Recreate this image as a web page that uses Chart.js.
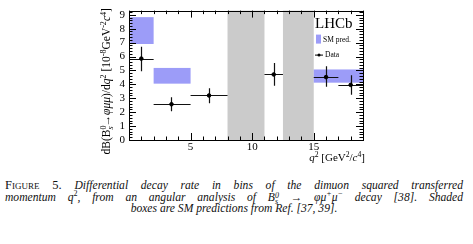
<!DOCTYPE html>
<html>
<head>
<meta charset="utf-8">
<script src="https://cdn.jsdelivr.net/npm/chart.js@4"></script>
<style>
  body { margin: 0; background: #fff; width: 473px; height: 244px; overflow: hidden; }
  #wrap { position: absolute; left: 0; top: 0; width: 473px; height: 170px; }
  #caption { position: absolute; left: 5px; top: 180px; width: 458px;
    font-family: "Liberation Serif", serif; font-size: 11.6px; line-height: 11.7px; color: #111; }
  #caption .l { display: block; height: 11.7px; text-align: justify; text-align-last: justify; white-space: nowrap; }
  #caption .c { display: block; height: 11.7px; text-align: center; }
  #caption i { font-style: italic; }
  .sc { font-variant: small-caps; font-style: normal; font-size: 12.5px; }
  .up { font-size: 8px; line-height: 0; position: relative; top: -5px; vertical-align: baseline; }
  .ss { display: inline-block; vertical-align: -3px; line-height: 6px; font-size: 8px; text-align: left; }
</style>
</head>
<body>
<div id="wrap"><canvas id="c" width="473" height="170"></canvas></div>
<div id="caption">
  <span class="l"><span class="sc">Figure 5.</span> <i>Differential decay rate in bins of the dimuon squared transferred</i></span>
  <span class="l"><i>momentum q</i><span class="up">2</span><i>, from an angular analysis of B<span class="ss">0<br>s</span> → φμ<span class="up">+</span>μ<span class="up">−</span> decay [38]. Shaded</i></span>
  <span class="c"><i>boxes are SM predictions from Ref. [37, 39].</i></span>
</div>
<script>
'use strict';

// measured bins (q^2 in GeV^2/c^4, rate in 10^-8 GeV^-2 c^4)
const binLo = [0.1, 2, 5, 11, 15, 17];
const binHi = [2, 5, 8, 12.5, 17, 19];
const pointQ2 = [1.0, 3.45, 6.5, 11.75, 16.0, 18.0];
const rate = [5.85, 2.57, 3.2, 4.71, 4.52, 3.96];
const errUp = [0.85, 0.5, 0.52, 0.82, 0.78, 0.7];
const errDown = [0.9, 0.5, 0.56, 0.82, 0.7, 0.71];

// SM prediction boxes
const smLo = [0.1, 2, 15];
const smHi = [2, 5, 19];
const smMin = [6.9, 4.05, 4.12];
const smMax = [8.83, 5.18, 5.07];

// vetoed charmonium regions
const vetoLo = [8, 12.5];
const vetoHi = [11, 15];

// labelled ticks
const xTickVals = [5, 10, 15];
const yTickVals = [0, 1, 2, 3, 4, 5, 6, 7, 8, 9];

const serif = '"Liberation Serif", "DejaVu Serif", serif';

function drawRuns(ctx, runs, x, y, size) {
  // pos: 0 normal, 1 superscript, -1 subscript
  let cx = x;
  runs.forEach(r => {
    const fs = r.pos === 0 ? size : size * 0.7;
    ctx.font = (r.it ? 'italic ' : '') + fs + 'px ' + serif;
    let dy = 0;
    if (r.pos === 1) dy = -size * 0.38;
    if (r.pos === -1) dy = size * 0.25;
    ctx.fillText(r.t, cx, y + dy);
    if (!r.noAdvance) cx += ctx.measureText(r.t).width;
  });
  return cx - x;
}

function measureRuns(ctx, runs, size) {
  let w = 0;
  runs.forEach(r => {
    const fs = r.pos === 0 ? size : size * 0.7;
    ctx.font = (r.it ? 'italic ' : '') + fs + 'px ' + serif;
    if (!r.noAdvance) w += ctx.measureText(r.t).width;
  });
  return w;
}

const decor = {
  id: 'decor',
  beforeDatasetsDraw(chart) {
    const { ctx, chartArea: a, scales: { x, y } } = chart;
    ctx.save();
    ctx.fillStyle = '#cbcbcb';
    vetoLo.forEach((lo, i) => {
      const x0 = x.getPixelForValue(lo), x1 = x.getPixelForValue(vetoHi[i]);
      ctx.fillRect(x0, a.top, x1 - x0, a.bottom - a.top);
    });
    ctx.fillStyle = '#9c9cf8';
    smLo.forEach((lo, i) => {
      const x0 = x.getPixelForValue(lo), x1 = x.getPixelForValue(smHi[i]);
      const y0 = y.getPixelForValue(smMax[i]), y1 = y.getPixelForValue(smMin[i]);
      ctx.fillRect(x0, y0, x1 - x0, y1 - y0);
    });
    // error bars
    ctx.strokeStyle = '#111';
    ctx.lineWidth = 1.2;
    rate.forEach((v, i) => {
      const py = Math.round(y.getPixelForValue(v)) + 0.5;
      const px = Math.round(x.getPixelForValue(pointQ2[i])) + 0.5;
      ctx.beginPath();
      ctx.moveTo(x.getPixelForValue(binLo[i]), py);
      ctx.lineTo(x.getPixelForValue(binHi[i]), py);
      ctx.moveTo(px, y.getPixelForValue(v + errUp[i]));
      ctx.lineTo(px, y.getPixelForValue(v - errDown[i]));
      ctx.stroke();
    });
    ctx.restore();
  },
  afterDraw(chart) {
    const { ctx, chartArea: a, scales: { x, y } } = chart;
    ctx.save();
    ctx.strokeStyle = '#000';
    ctx.lineWidth = 1;
    ctx.strokeRect(Math.round(a.left) + 0.5, Math.round(a.top) + 0.5,
      Math.round(a.right - a.left), Math.round(a.bottom - a.top));
    ctx.beginPath();
    // x ticks, bottom and top
    for (let q = 0; q <= 19; q++) {
      const px = Math.round(x.getPixelForValue(q)) + 0.5;
      const len = q % 5 === 0 ? 7 : 3.5;
      ctx.moveTo(px, a.bottom); ctx.lineTo(px, a.bottom - len);
      ctx.moveTo(px, a.top); ctx.lineTo(px, a.top + len);
    }
    // y ticks, left and right
    for (let k = 0; k <= 46; k++) {
      const v = k * 0.2;
      if (v > y.max) break;
      const py = Math.round(y.getPixelForValue(v)) + 0.5;
      const len = k % 5 === 0 ? 7 : 3.5;
      ctx.moveTo(a.left, py); ctx.lineTo(a.left + len, py);
      ctx.moveTo(a.right, py); ctx.lineTo(a.right - len, py);
    }
    ctx.stroke();

    // legend
    ctx.fillStyle = '#000';
    ctx.textBaseline = 'middle';
    ctx.textAlign = 'left';
    ctx.font = '15px ' + serif;
    ctx.fillText('LHCb', a.right - 48, a.top + 13);
    ctx.fillStyle = '#9c9cf8';
    ctx.fillRect(a.right - 47, a.top + 24, 5, 9);
    ctx.fillStyle = '#000';
    ctx.font = '7.5px ' + serif;
    ctx.fillText('SM pred.', a.right - 40, a.top + 29);
    ctx.fillText('Data', a.right - 38, a.top + 44);
    ctx.beginPath();
    ctx.moveTo(a.right - 48, a.top + 44.5); ctx.lineTo(a.right - 40, a.top + 44.5);
    ctx.stroke();
    ctx.beginPath();
    ctx.arc(a.right - 44, a.top + 44.5, 1.5, 0, Math.PI * 2);
    ctx.fill();

    // x title
    ctx.textBaseline = 'alphabetic';
    const xRuns = [
      { t: 'q', it: true, pos: 0 }, { t: '2', pos: 1 }, { t: ' [GeV', pos: 0 }, { t: '2', pos: 1 },
      { t: '/', pos: 0 }, { t: 'c', it: true, pos: 0 }, { t: '4', pos: 1 }, { t: ']', pos: 0 }
    ];
    const xw = measureRuns(ctx, xRuns, 11);
    drawRuns(ctx, xRuns, a.right + 2 - xw, a.bottom + 21, 11);

    // y title, rotated
    const yRuns = [
      { t: 'dB(B', pos: 0 }, { t: '0', pos: 1, noAdvance: true }, { t: 's', it: true, pos: -1 },
      { t: '→', pos: 0 }, { t: 'φμμ', it: true, pos: 0 }, { t: ')/d', pos: 0 }, { t: 'q', it: true, pos: 0 },
      { t: '2', pos: 1 }, { t: ' [10', pos: 0 }, { t: '-8', pos: 1 }, { t: 'GeV', pos: 0 }, { t: '-2', pos: 1 },
      { t: 'c', it: true, pos: 0 }, { t: '4', pos: 1 }, { t: ']', pos: 0 }
    ];
    const yw = measureRuns(ctx, yRuns, 11.5);
    ctx.translate(110, (a.top + a.bottom) / 2 + 6);
    ctx.rotate(-Math.PI / 2);
    drawRuns(ctx, yRuns, -yw / 2, 0, 11.5);
    ctx.restore();
  }
};

new Chart(document.getElementById('c'), {
  type: 'scatter',
  data: {
    datasets: [{
      label: 'Data',
      data: pointQ2.map((q, i) => ({ x: q, y: rate[i] })),
      backgroundColor: '#000',
      borderColor: '#000',
      pointRadius: 1.8,
      pointHoverRadius: 1.8
    }]
  },
  options: {
    responsive: false,
    animation: false,
    devicePixelRatio: 1,
    layout: { padding: { top: 8, right: 110, left: 0, bottom: 0 } },
    plugins: { legend: { display: false }, tooltip: { enabled: false } },
    scales: {
      x: {
        type: 'linear', min: 0, max: 19,
        grid: { display: false, drawTicks: false }, border: { display: false },
        afterBuildTicks: s => { s.ticks = xTickVals.map(v => ({ value: v })); },
        ticks: {
          padding: 1, color: '#000', maxRotation: 0, autoSkip: false,
          font: { family: serif, size: 11 }
        },
        afterFit: s => { s.height = 30; }
      },
      y: {
        min: 0, max: 9.3,
        grid: { display: false, drawTicks: false }, border: { display: false },
        afterBuildTicks: s => { s.ticks = yTickVals.map(v => ({ value: v })); },
        ticks: {
          padding: 4, color: '#000', autoSkip: false,
          font: { family: serif, size: 11 }
        },
        afterFit: s => { s.width = 129; }
      }
    }
  },
  plugins: [decor]
});
</script>
</body>
</html>
